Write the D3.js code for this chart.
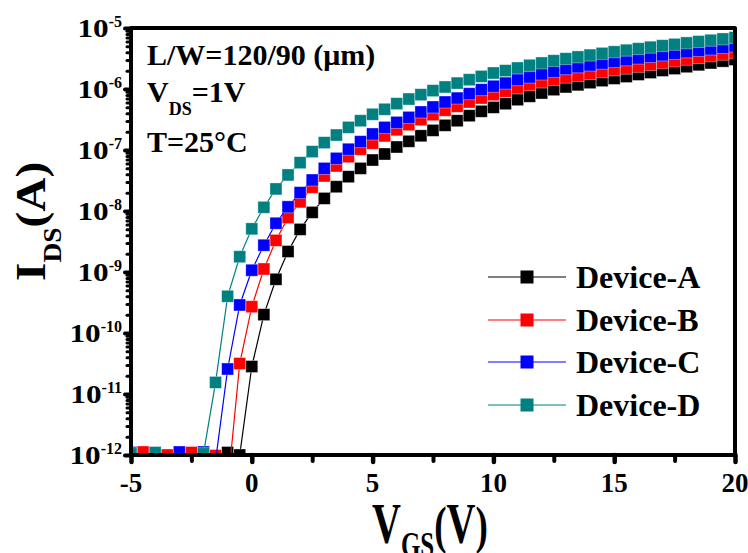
<!DOCTYPE html>
<html>
<head>
<meta charset="utf-8">
<script src="https://cdn.jsdelivr.net/npm/d3@7"></script>
<style>
  body { margin: 0; background: #fff; }
  text { font-family: "Liberation Serif", "Times New Roman", serif; font-weight: bold; fill: #000; }
</style>
</head>
<body>
<div id="chart"></div>
<script>
// gate voltage (V)
const vgs = [-5, -4.5, -4, -3.5, -3, -2.5, -2, -1.5, -1, -0.5,
  0, 0.5, 1, 1.5, 2, 2.5, 3, 3.5, 4, 4.5,
  5, 5.5, 6, 6.5, 7, 7.5, 8, 8.5, 9, 9.5,
  10, 10.5, 11, 11.5, 12, 12.5, 13, 13.5, 14, 14.5,
  15, 15.5, 16, 16.5, 17, 17.5, 18, 18.5, 19, 19.5, 20];

// drain current (A)
const devA = [5e-13, 5e-13, 5e-13, 5e-13, 5e-13, 5e-13, 5e-13, 5e-13, 1.1e-12, 1.0e-12,
  2.82e-11, 2.0e-10, 7.6e-10, 2.17e-9, 5.0e-9, 9.5e-9, 1.61e-8, 2.5e-8, 3.65e-8, 5.0e-8,
  6.85e-8, 8.6e-8, 1.12e-7, 1.39e-7, 1.71e-7, 2.1e-7, 2.54e-7, 3.02e-7, 3.65e-7, 4.31e-7,
  5.0e-7, 5.74e-7, 6.68e-7, 7.59e-7, 8.59e-7, 9.75e-7, 1.08e-6, 1.17e-6, 1.27e-6, 1.37e-6,
  1.49e-6, 1.6e-6, 1.73e-6, 1.86e-6, 2.01e-6, 2.16e-6, 2.32e-6, 2.49e-6, 2.67e-6, 2.86e-6, 3.05e-6];

const devB = [5e-13, 1.12e-12, 5e-13, 1.0e-12, 5e-13, 1.1e-12, 5e-13, 9.8e-13, 3e-13, 3.16e-11,
  2.7e-10, 1.12e-9, 3.3e-9, 7.8e-9, 1.41e-8, 2.45e-8, 3.75e-8, 5.47e-8, 7.76e-8, 1.03e-7,
  1.29e-7, 1.7e-7, 2.14e-7, 2.6e-7, 3.14e-7, 3.79e-7, 4.48e-7, 5.2e-7, 6.12e-7, 7.11e-7,
  8.07e-7, 9.16e-7, 1.04e-6, 1.17e-6, 1.3e-6, 1.42e-6, 1.56e-6, 1.67e-6, 1.79e-6, 1.91e-6,
  2.05e-6, 2.19e-6, 2.35e-6, 2.51e-6, 2.69e-6, 2.88e-6, 3.07e-6, 3.27e-6, 3.49e-6, 3.71e-6, 3.92e-6];

const devC = [1.1e-12, 5e-13, 5e-13, 5e-13, 1.12e-12, 5e-13, 1.12e-12, 8e-13, 2.57e-11, 2.88e-10,
  1.07e-9, 2.75e-9, 6.3e-9, 1.17e-8, 2.0e-8, 3.22e-8, 5.0e-8, 7.3e-8, 1.03e-7, 1.37e-7,
  1.83e-7, 2.35e-7, 2.84e-7, 3.43e-7, 4.2e-7, 5.07e-7, 6.12e-7, 7.1e-7, 8.37e-7, 9.75e-7,
  1.11e-6, 1.25e-6, 1.42e-6, 1.57e-6, 1.76e-6, 1.95e-6, 2.15e-6, 2.31e-6, 2.47e-6, 2.65e-6,
  2.82e-6, 3.01e-6, 3.21e-6, 3.41e-6, 3.62e-6, 3.84e-6, 4.06e-6, 4.3e-6, 4.53e-6, 4.79e-6, 5.05e-6];

const devD = [1.05e-12, 5e-13, 1.1e-12, 5e-13, 5e-13, 5e-13, 1.05e-12, 1.55e-11, 4.0e-10, 1.78e-9,
  5.1e-9, 1.15e-8, 2.3e-8, 3.9e-8, 6.2e-8, 9.4e-8, 1.32e-7, 1.76e-7, 2.35e-7, 3.02e-7,
  3.85e-7, 4.65e-7, 5.75e-7, 6.85e-7, 8.07e-7, 9.4e-7, 1.08e-6, 1.25e-6, 1.42e-6, 1.61e-6,
  1.83e-6, 2.0e-6, 2.21e-6, 2.45e-6, 2.67e-6, 2.91e-6, 3.14e-6, 3.36e-6, 3.6e-6, 3.84e-6,
  4.07e-6, 4.33e-6, 4.58e-6, 4.85e-6, 5.13e-6, 5.4e-6, 5.7e-6, 6.0e-6, 6.3e-6, 6.62e-6, 6.97e-6];

const seriesNames = ['Device-A', 'Device-B', 'Device-C', 'Device-D'];
const seriesColors = ['#000000', '#ff0000', '#0000ff', '#008080'];

const xTicks = [-5, 0, 5, 10, 15, 20];
const xMinorTicks = [-2.5, 2.5, 7.5, 12.5, 17.5];
const yTickExps = [-5, -6, -7, -8, -9, -10, -11, -12];

const W = 748, H = 553;
const m = { t: 28, r: 13, b: 98, l: 131 };

const svg = d3.select('#chart').append('svg')
  .attr('width', W).attr('height', H);

const x = d3.scaleLinear().domain([-5, 20]).range([m.l, W - m.r]);
const y = d3.scaleLog().domain([1e-12, 1e-5]).range([H - m.b, m.t]);

svg.append('clipPath').attr('id', 'plot-clip')
  .append('rect')
  .attr('x', m.l).attr('y', m.t)
  .attr('width', W - m.l - m.r).attr('height', H - m.t - m.b);

const series = [devA, devB, devC, devD].map((vals, i) => ({
  name: seriesNames[i],
  color: seriesColors[i],
  pts: vals.map((v, j) => ({ v: vgs[j], i: v }))
}));

const plot = svg.append('g').attr('clip-path', 'url(#plot-clip)');
const line = d3.line().x(d => x(d.v)).y(d => y(d.i));
const ms = 12;

series.forEach(s => {
  const g = plot.append('g');
  g.append('path')
    .attr('d', line(s.pts))
    .attr('fill', 'none')
    .attr('stroke', s.color)
    .attr('stroke-width', 1.2);
  g.selectAll('rect')
    .data(s.pts)
    .join('rect')
    .attr('x', d => x(d.v) - ms / 2)
    .attr('y', d => y(d.i) - ms / 2)
    .attr('width', ms).attr('height', ms)
    .attr('fill', s.color)
    .attr('stroke', '#ffffff').attr('stroke-opacity', 0.45).attr('stroke-width', 0.8);
});

// axes ticks (outward, round caps like the Origin export)
const yMinor = [];
yTickExps.slice(1).forEach(e => { for (let k = 2; k <= 9; k++) yMinor.push(k * Math.pow(10, e)); });

function styleTicks(sel, w) {
  sel.select('.domain').remove();
  sel.selectAll('.tick line').attr('stroke', '#000').attr('stroke-width', w).attr('stroke-linecap', 'round');
  sel.selectAll('.tick text').remove();
}

svg.append('g').attr('transform', `translate(${m.l},0)`)
  .call(d3.axisLeft(y).tickValues(yMinor).tickSize(4).tickFormat(''))
  .call(sel => styleTicks(sel, 3));
svg.append('g').attr('transform', `translate(${m.l},0)`)
  .call(d3.axisLeft(y).tickValues(yTickExps.map(e => Math.pow(10, e))).tickSize(6).tickFormat(''))
  .call(sel => styleTicks(sel, 4));
svg.append('g').attr('transform', `translate(0,${H - m.b})`)
  .call(d3.axisBottom(x).tickValues(xMinorTicks).tickSize(6).tickFormat(''))
  .call(sel => styleTicks(sel, 4));
svg.append('g').attr('transform', `translate(0,${H - m.b})`)
  .call(d3.axisBottom(x).tickValues(xTicks).tickSize(7).tickFormat(''))
  .call(sel => styleTicks(sel, 4.5));

// frame
svg.append('rect')
  .attr('x', m.l).attr('y', m.t)
  .attr('width', W - m.l - m.r).attr('height', H - m.t - m.b)
  .attr('fill', 'none').attr('stroke', '#000').attr('stroke-width', 4)
  .attr('stroke-linejoin', 'round');

// x tick labels
svg.append('g').selectAll('text')
  .data(xTicks)
  .join('text')
  .attr('x', d => x(d)).attr('y', H - m.b + 37)
  .attr('text-anchor', 'middle')
  .style('font-size', '27px')
  .text(d => d);

// y tick labels 10^n: exponent right-aligned near the axis, "10" stretched wide before it
const labRight = m.l - 9;
yTickExps.forEach(e => {
  const ty = y(Math.pow(10, e));
  const sup = svg.append('text')
    .attr('x', labRight).attr('y', ty - 1)
    .attr('text-anchor', 'end')
    .style('font-size', '16px')
    .text(e);
  const supLen = sup.node().getComputedTextLength();
  svg.append('g')
    .attr('transform', `translate(${labRight - supLen},${ty + 9}) scale(1.25,1)`)
    .append('text')
    .attr('text-anchor', 'end')
    .style('font-size', '25px')
    .text('10');
});

// axis titles
const xt = svg.append('g').attr('transform', 'translate(372,543) scale(1,1.4)')
  .append('text').style('font-size', '40px');
xt.append('tspan').text('V');
xt.append('tspan').attr('dy', 10).style('font-size', '25px').text('GS');
xt.append('tspan').attr('dy', -10).style('font-size', '37px').text('(');
xt.append('tspan').text('V');
xt.append('tspan').style('font-size', '37px').text(')');

const yt = svg.append('g').attr('transform', 'translate(45,281) rotate(-90) scale(1.1,1)')
  .append('text').style('font-size', '43px');
yt.append('tspan').text('I');
yt.append('tspan').attr('dy', 16).style('font-size', '25px').text('DS');
yt.append('tspan').attr('dy', -16).text('(A)');

// conditions text
svg.append('text').attr('x', 147).attr('y', 65).style('font-size', '30px').text('L/W=120/90 (\u03bcm)');
const vd = svg.append('text').attr('x', 147).attr('y', 102).style('font-size', '30px');
vd.append('tspan').text('V');
vd.append('tspan').attr('dy', 13).style('font-size', '18px').text('DS');
vd.append('tspan').attr('dy', -13).text('=1V');
svg.append('text').attr('x', 147).attr('y', 152).style('font-size', '30px').text('T=25\u00b0C');

// legend
const legY = [277, 320, 362, 405];
series.forEach((s, i) => {
  const g = svg.append('g').attr('transform', `translate(0,${legY[i]})`);
  g.append('line').attr('x1', 488).attr('x2', 566).attr('y1', 0).attr('y2', 0)
    .attr('stroke', s.color).attr('stroke-width', 1.2);
  g.append('rect').attr('x', 527 - 6.5).attr('y', -6.5).attr('width', 13).attr('height', 13)
    .attr('fill', s.color);
  g.append('text').attr('x', 576).attr('y', 11).style('font-size', '32px').text(s.name);
});
</script>
</body>
</html>
